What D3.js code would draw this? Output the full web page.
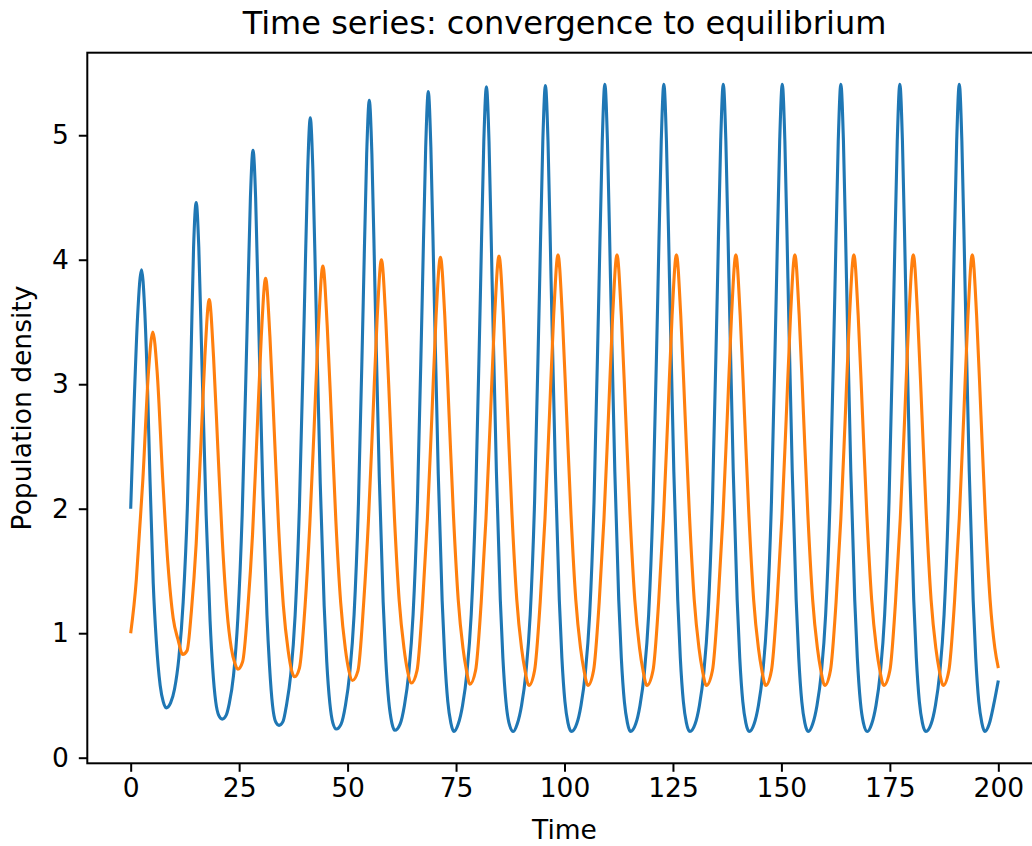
<!DOCTYPE html>
<html>
<head>
<meta charset="utf-8">
<script src="https://cdn.jsdelivr.net/npm/d3@7"></script>
<style>
  html, body { margin: 0; padding: 0; background: #fff; overflow: hidden; }
  svg { display: block; }
  text { font-family: "DejaVu Sans", sans-serif; fill: #000; }
</style>
</head>
<body>
<svg id="chartSVG" width="1032" height="846"></svg>
<script>
//////////////////// DATA ////////////////////
// [time, density], prey (blue)
const preySeries = [
    [0, 2.00], [0.8, 2.85], [1.6, 3.55], [2.5, 3.92], [3.2, 3.62], [3.9, 2.95], [4.4, 2.30], [5.2, 1.40], [5.9, 0.94], [6.8, 0.58], [7.5, 0.45], [8.2, 0.40],
    [9.2, 0.44], [10.1, 0.55], [11.1, 0.80], [12.1, 1.25], [13.1, 2.05], [13.9, 3.20], [14.5, 4.10], [15.1, 4.46], [15.7, 4.10], [16.4, 3.20], [17.4, 1.95], [18.3, 1.10], [18.9, 0.72], [19.6, 0.45], [20.3, 0.34], [21.1, 0.31],
    [22.0, 0.34], [22.7, 0.43], [23.7, 0.66], [24.7, 1.12], [25.7, 1.95], [26.8, 3.40], [27.6, 4.50], [28.2, 4.88], [28.8, 4.50], [29.5, 3.50], [30.5, 2.10], [31.4, 1.15], [32.0, 0.74], [32.7, 0.42], [33.4, 0.29], [34.2, 0.26],
    [35.1, 0.29], [35.9, 0.42], [36.9, 0.67], [37.9, 1.14], [38.9, 2.02], [40.0, 3.55], [40.8, 4.72], [41.4, 5.14], [42.0, 4.72], [42.7, 3.68], [43.7, 2.20], [44.6, 1.22], [45.2, 0.77], [45.9, 0.44], [46.6, 0.28], [47.4, 0.23],
    [48.5, 0.27], [49.5, 0.42], [50.5, 0.68], [51.5, 1.15], [52.5, 2.04], [53.6, 3.65], [54.4, 4.85], [55.0, 5.28], [55.6, 4.85], [56.3, 3.78], [57.3, 2.26], [58.2, 1.25], [58.8, 0.79], [59.5, 0.45], [60.2, 0.28], [60.9, 0.22],
    [62.1, 0.27], [63.1, 0.42], [64.1, 0.68], [65.1, 1.15], [66.1, 2.05], [67.2, 3.68], [68.0, 4.90], [68.6, 5.35], [69.2, 4.90], [69.9, 3.82], [70.9, 2.28], [71.8, 1.26], [72.4, 0.80], [73.1, 0.45], [73.8, 0.28], [74.5, 0.21],
    [75.5, 0.27], [76.5, 0.42], [77.5, 0.68], [78.5, 1.15], [79.5, 2.05], [80.6, 3.70], [81.4, 4.95], [82.0, 5.39], [82.6, 4.95], [83.3, 3.85], [84.3, 2.30], [85.2, 1.27], [85.8, 0.80], [86.5, 0.45], [87.2, 0.28], [88.2, 0.21],
    [89.1, 0.27], [90.1, 0.42], [91.1, 0.68], [92.1, 1.15], [93.1, 2.05], [94.2, 3.70], [95.0, 4.95], [95.6, 5.40], [96.2, 4.95], [96.9, 3.85], [97.9, 2.30], [98.8, 1.27], [99.4, 0.80], [100.1, 0.45], [100.8, 0.28], [101.6, 0.21],
    [102.8, 0.27], [103.8, 0.42], [104.8, 0.68], [105.8, 1.15], [106.8, 2.05], [107.9, 3.70], [108.7, 4.95], [109.3, 5.41], [109.9, 4.95], [110.6, 3.85], [111.6, 2.30], [112.5, 1.27], [113.1, 0.80], [113.8, 0.45], [114.5, 0.28], [115.2, 0.21],
    [116.4, 0.27], [117.4, 0.42], [118.4, 0.68], [119.4, 1.15], [120.4, 2.05], [121.5, 3.70], [122.3, 4.95], [122.9, 5.41], [123.5, 4.95], [124.2, 3.85], [125.2, 2.30], [126.1, 1.27], [126.7, 0.80], [127.4, 0.45], [128.1, 0.28], [128.9, 0.21],
    [130.1, 0.27], [131.1, 0.42], [132.1, 0.68], [133.1, 1.15], [134.1, 2.05], [135.2, 3.70], [136.0, 4.95], [136.6, 5.41], [137.2, 4.95], [137.9, 3.85], [138.9, 2.30], [139.8, 1.27], [140.4, 0.80], [141.1, 0.45], [141.8, 0.28], [142.6, 0.21],
    [143.7, 0.27], [144.7, 0.42], [145.7, 0.68], [146.7, 1.15], [147.7, 2.05], [148.8, 3.70], [149.6, 4.95], [150.2, 5.41], [150.8, 4.95], [151.5, 3.85], [152.5, 2.30], [153.4, 1.27], [154.0, 0.80], [154.7, 0.45], [155.4, 0.28], [156.2, 0.21],
    [157.2, 0.27], [158.2, 0.42], [159.2, 0.68], [160.2, 1.15], [161.2, 2.05], [162.3, 3.70], [163.1, 4.95], [163.7, 5.41], [164.3, 4.95], [165.0, 3.85], [166.0, 2.30], [166.9, 1.27], [167.5, 0.80], [168.2, 0.45], [168.9, 0.28], [169.8, 0.21],
    [170.8, 0.27], [171.8, 0.42], [172.8, 0.68], [173.8, 1.15], [174.8, 2.05], [175.9, 3.70], [176.7, 4.95], [177.3, 5.41], [177.9, 4.95], [178.6, 3.85], [179.6, 2.30], [180.5, 1.27], [181.1, 0.80], [181.8, 0.45], [182.5, 0.28], [183.3, 0.21],
    [184.5, 0.27], [185.5, 0.42], [186.5, 0.68], [187.5, 1.15], [188.5, 2.05], [189.6, 3.70], [190.4, 4.95], [191.0, 5.41], [191.6, 4.95], [192.3, 3.85], [193.3, 2.30], [194.2, 1.27], [194.8, 0.80], [195.5, 0.45], [196.2, 0.28], [196.9, 0.21],
    [197.9, 0.27], [198.9, 0.42], [200.0, 0.62]
];

// [time, density], predator (orange)
const predatorSeries = [
    [0, 1.00], [1.3, 1.43], [2.0, 1.80], [2.8, 2.23], [4.1, 3.10], [5.1, 3.42], [6.1, 3.10], [7.4, 2.23], [8.6, 1.55], [9.8, 1.12], [10.9, 0.95], [12.0, 0.83],
    [13.0, 0.86], [14.0, 1.18], [15.1, 1.72], [16.1, 2.45], [17.1, 3.22], [18.1, 3.68], [19.1, 3.22], [20.1, 2.48], [21.1, 1.76], [22.2, 1.18], [23.2, 0.88], [24.0, 0.76], [24.7, 0.71],
    [25.8, 0.77], [27.0, 1.20], [28.1, 1.80], [29.1, 2.58], [30.1, 3.38], [31.1, 3.85], [32.1, 3.38], [33.1, 2.62], [34.1, 1.85], [35.2, 1.22], [36.3, 0.86], [37.1, 0.70], [37.8, 0.65],
    [38.9, 0.72], [40.2, 1.22], [41.3, 1.88], [42.3, 2.66], [43.3, 3.47], [44.3, 3.95], [45.3, 3.47], [46.3, 2.70], [47.3, 1.90], [48.4, 1.25], [49.5, 0.87], [50.3, 0.70], [51.1, 0.62],
    [52.4, 0.70], [53.7, 1.24], [54.8, 1.90], [55.8, 2.70], [56.8, 3.52], [57.8, 4.00], [58.8, 3.52], [59.8, 2.73], [60.8, 1.93], [61.9, 1.26], [63.0, 0.88], [63.8, 0.70], [64.7, 0.60],
    [66.0, 0.70], [67.3, 1.25], [68.4, 1.92], [69.4, 2.72], [70.4, 3.55], [71.4, 4.02], [72.4, 3.55], [73.4, 2.75], [74.4, 1.95], [75.5, 1.27], [76.6, 0.88], [77.4, 0.70], [78.2, 0.59],
    [79.5, 0.70], [80.8, 1.25], [81.9, 1.92], [82.9, 2.72], [83.9, 3.55], [84.9, 4.03], [85.9, 3.55], [86.9, 2.75], [87.9, 1.95], [89.0, 1.27], [90.1, 0.88], [90.9, 0.70], [91.8, 0.58],
    [93.1, 0.70], [94.4, 1.25], [95.5, 1.92], [96.5, 2.72], [97.5, 3.55], [98.5, 4.04], [99.5, 3.55], [100.5, 2.75], [101.5, 1.95], [102.6, 1.27], [103.7, 0.88], [104.5, 0.70], [105.4, 0.58],
    [106.7, 0.70], [108.0, 1.25], [109.1, 1.92], [110.1, 2.72], [111.1, 3.55], [112.1, 4.04], [113.1, 3.55], [114.1, 2.75], [115.1, 1.95], [116.2, 1.27], [117.3, 0.88], [118.1, 0.70], [119.0, 0.58],
    [120.4, 0.70], [121.7, 1.25], [122.8, 1.92], [123.8, 2.72], [124.8, 3.55], [125.8, 4.04], [126.8, 3.55], [127.8, 2.75], [128.8, 1.95], [129.9, 1.27], [131.0, 0.88], [131.8, 0.70], [132.7, 0.58],
    [134.1, 0.70], [135.4, 1.25], [136.5, 1.92], [137.5, 2.72], [138.5, 3.55], [139.5, 4.04], [140.5, 3.55], [141.5, 2.75], [142.5, 1.95], [143.6, 1.27], [144.7, 0.88], [145.5, 0.70], [146.4, 0.58],
    [147.7, 0.70], [149.0, 1.25], [150.1, 1.92], [151.1, 2.72], [152.1, 3.55], [153.1, 4.04], [154.1, 3.55], [155.1, 2.75], [156.1, 1.95], [157.2, 1.27], [158.3, 0.88], [159.1, 0.70], [160.0, 0.58],
    [161.3, 0.70], [162.6, 1.25], [163.7, 1.92], [164.7, 2.72], [165.7, 3.55], [166.7, 4.04], [167.7, 3.55], [168.7, 2.75], [169.7, 1.95], [170.8, 1.27], [171.9, 0.88], [172.7, 0.70], [173.6, 0.58],
    [175.0, 0.70], [176.3, 1.25], [177.4, 1.92], [178.4, 2.72], [179.4, 3.55], [180.4, 4.04], [181.4, 3.55], [182.4, 2.75], [183.4, 1.95], [184.5, 1.27], [185.6, 0.88], [186.4, 0.70], [187.3, 0.58],
    [188.6, 0.70], [189.9, 1.25], [191.0, 1.92], [192.0, 2.72], [193.0, 3.55], [194.0, 4.04], [195.0, 3.55], [196.0, 2.75], [197.0, 1.95], [198.1, 1.27], [199.2, 0.88], [200.0, 0.72]
];

// tick values
const xTicks = [0, 25, 50, 75, 100, 125, 150, 175, 200];
const yTicks = [0, 1, 2, 3, 4, 5];

// texts
const titleText = "Time series: convergence to equilibrium";
const xLabelText = "Time";
const yLabelText = "Population density";


//////////////////// HANDLE SIZES ////////////////////
// the right spine falls just outside the picture
const plotBox = {
    left: 87.3,
    right: 1041.7,
    top: 52.7,
    bottom: 763.3
};

const colors = {
    prey: "#1f77b4",
    predator: "#ff7f0e"
};

const fontSizes = {
    title: "32px",
    label: "26.5px",
    tick: "26.5px"
};


//////////////////// INITIALIZE SCALERS ////////////////////
// time
const xScale = d3.scaleLinear()
    .domain([-10, 210])
    .range([plotBox.left, plotBox.right]);

// density
const yScale = d3.scaleLinear()
    .domain([-0.045, 5.663])
    .range([plotBox.bottom, plotBox.top]);

const svg = d3.select("#chartSVG");


//////////////////// DRAW LINES ////////////////////
const lineGen = d3.line()
    .x(d => xScale(d[0]))
    .y(d => yScale(d[1]))
    .curve(d3.curveMonotoneX);

svg.append("path")
    .datum(preySeries)
    .attr("fill", "none")
    .attr("stroke", colors.prey)
    .attr("stroke-width", 3.1)
    .attr("stroke-linejoin", "round")
    .attr("d", lineGen);

svg.append("path")
    .datum(predatorSeries)
    .attr("fill", "none")
    .attr("stroke", colors.predator)
    .attr("stroke-width", 3.1)
    .attr("stroke-linejoin", "round")
    .attr("d", lineGen);


//////////////////// AXES ////////////////////
// x-axis
const xAxis = d3.axisBottom(xScale)
    .tickValues(xTicks)
    .tickSize(8.5)
    .tickPadding(6)
    .tickFormat(d3.format("d"));

const xAxisGroup = svg.append("g")
    .attr("transform", `translate(0, ${plotBox.bottom})`)
    .call(xAxis);

// y-axis
const yAxis = d3.axisLeft(yScale)
    .tickValues(yTicks)
    .tickSize(8.5)
    .tickPadding(10)
    .tickFormat(d3.format("d"));

const yAxisGroup = svg.append("g")
    .attr("transform", `translate(${plotBox.left}, 0)`)
    .call(yAxis);

[xAxisGroup, yAxisGroup].forEach(g => {
    g.select(".domain").remove();
    g.selectAll(".tick line").attr("stroke", "#000").attr("stroke-width", 2);
    g.selectAll(".tick text")
        .attr("fill", "#000")
        .style("font-family", "'DejaVu Sans', sans-serif")
        .style("font-size", fontSizes.tick);
});

// frame
svg.append("rect")
    .attr("x", plotBox.left)
    .attr("y", plotBox.top)
    .attr("width", plotBox.right - plotBox.left)
    .attr("height", plotBox.bottom - plotBox.top)
    .attr("fill", "none")
    .attr("stroke", "#000")
    .attr("stroke-width", 2);


//////////////////// TEXTS ////////////////////
// title
svg.append("text")
    .attr("x", (plotBox.left + plotBox.right) / 2)
    .attr("y", 34)
    .attr("text-anchor", "middle")
    .style("font-size", fontSizes.title)
    .text(titleText);

// x label
svg.append("text")
    .attr("x", (plotBox.left + plotBox.right) / 2)
    .attr("y", 839)
    .attr("text-anchor", "middle")
    .style("font-size", fontSizes.label)
    .text(xLabelText);

// y label
const yLabelPos = { x: 31, y: (plotBox.top + plotBox.bottom) / 2 };
svg.append("text")
    .attr("transform", `rotate(-90, ${yLabelPos.x}, ${yLabelPos.y})`)
    .attr("x", yLabelPos.x)
    .attr("y", yLabelPos.y)
    .attr("text-anchor", "middle")
    .style("font-size", fontSizes.label)
    .text(yLabelText);
</script>
</body>
</html>
